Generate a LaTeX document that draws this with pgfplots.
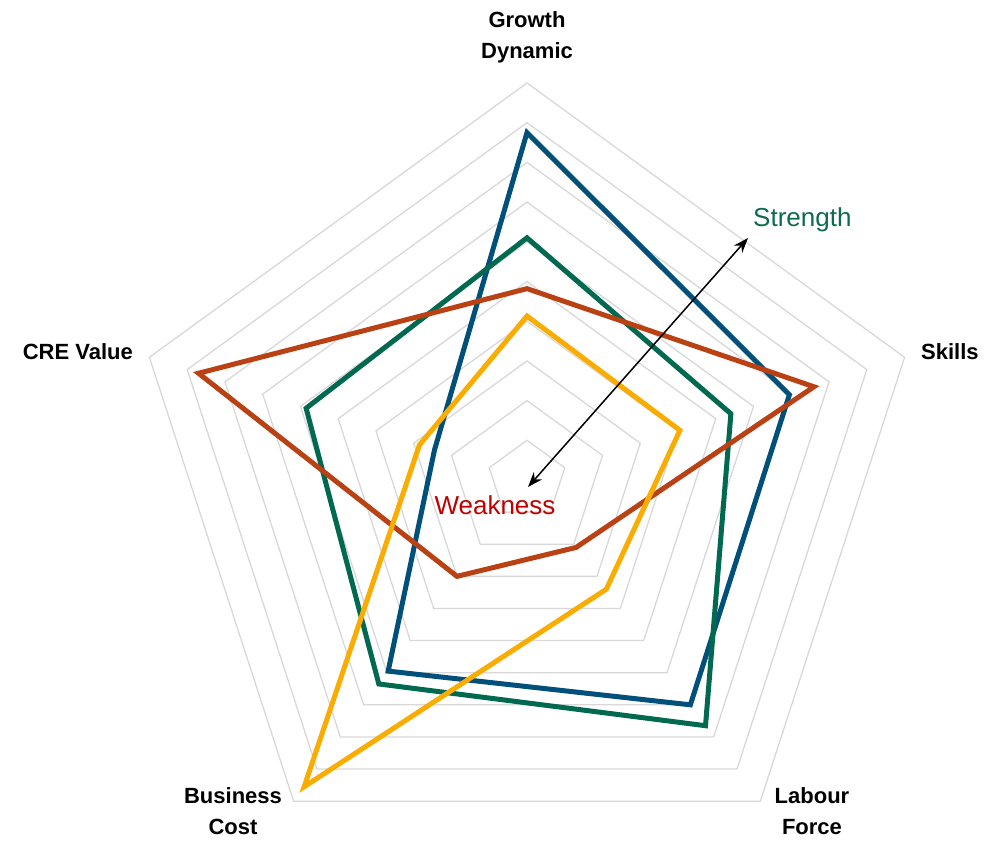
\documentclass[border=0pt]{standalone}
\usepackage{pgfplots}
\pgfplotsset{compat=1.18}
\usepgfplotslibrary{polar}
\usetikzlibrary{calc,arrows.meta}
\usepackage{fontspec}
\setmainfont{Liberation Sans}
\definecolor{cblue}{RGB}{0,80,122}
\definecolor{cgreen}{RGB}{0,105,80}
\definecolor{crust}{RGB}{185,65,20}
\definecolor{camber}{RGB}{250,172,0}
\definecolor{gridc}{RGB}{216,216,216}
\definecolor{strc}{RGB}{14,107,80}
\definecolor{weakc}{RGB}{192,0,0}
\begin{document}
\begin{tikzpicture}
\begin{polaraxis}[
  width=794bp, height=794bp, scale only axis,
  xmin=0, xmax=360, ymin=0, ymax=10,
  hide axis, clip=false,
  every axis plot/.append style={no marks, line join=miter},
]
\pgfplotsinvokeforeach{1,...,10}{
  \addplot[gridc, line width=1.3bp] coordinates {(90,#1) (18,#1) (306,#1) (234,#1) (162,#1) (90,#1) (18,#1)};
}
% order: Growth(90) Skills(18) Labour(306) Business(234) CRE(162)
\addplot[cblue, line width=5bp] coordinates {(90,8.75) (18,6.95) (306,7.0) (234,5.95) (162,2.45) (90,8.75) (18,6.95)};
\addplot[cgreen, line width=5bp] coordinates {(90,6.1) (18,5.4) (306,7.65) (234,6.35) (162,5.85) (90,6.1) (18,5.4)};
\addplot[crust, line width=5bp] coordinates {(90,4.82) (18,7.6) (306,2.1) (234,3.0) (162,8.7) (90,4.82) (18,7.6)};
\addplot[camber, line width=5bp] coordinates {(90,4.13) (18,4.05) (306,3.4) (234,9.55) (162,2.85) (90,4.13) (18,4.05)};
\coordinate (C) at (axis cs:0,0);
\end{polaraxis}
\draw[line width=1.5bp, {Stealth[length=15bp,width=11bp]}-{Stealth[length=15bp,width=11bp]}]
  ($(C)+(1bp,-7bp)$) -- ($(C)+(221bp,242bp)$);
\node[anchor=west, inner sep=0pt, text=strc, font=\fontsize{26bp}{30bp}\selectfont] at ($(C)+(226bp,260bp)$) {Strength};
\node[anchor=center, inner sep=0pt, text=weakc, font=\fontsize{26bp}{30bp}\selectfont] at ($(C)+(-32bp,-25bp)$) {Weakness};
\tikzset{lab/.style={inner sep=0pt, align=center, font=\fontsize{22bp}{31bp}\selectfont\bfseries}}
\node[lab, anchor=center] at ($(C)+(0bp,443bp)$) {Growth\\Dynamic};
\node[lab, anchor=west] at ($(C)+(394bp,128bp)$) {Skills};
\node[lab, anchor=east] at ($(C)+(-394bp,128bp)$) {CRE Value};
\node[lab, anchor=center] at ($(C)+(-294bp,-331bp)$) {Business\\Cost};
\node[lab, anchor=center] at ($(C)+(285bp,-331bp)$) {Labour\\Force};
\pgfresetboundingbox
\path[use as bounding box] ($(C)+(-527bp,-361bp)$) rectangle ($(C)+(460bp,480bp)$);
\end{tikzpicture}
\end{document}
